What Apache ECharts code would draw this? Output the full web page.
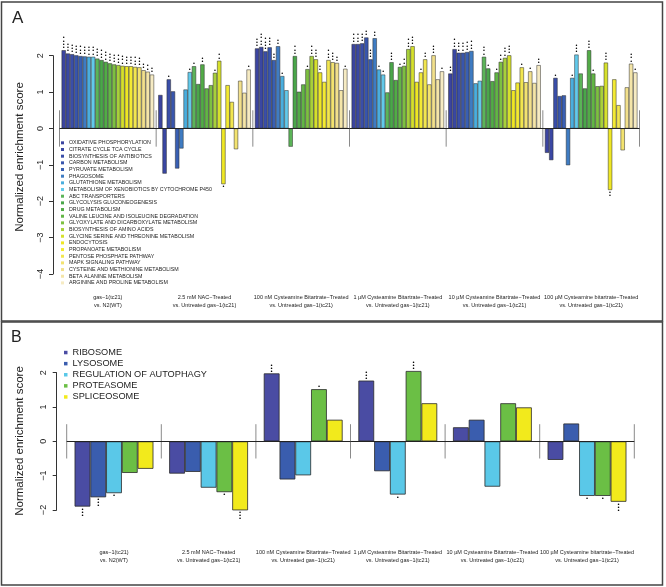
<!DOCTYPE html>
<html>
<head>
<meta charset="utf-8">
<script src="https://cdn.jsdelivr.net/npm/echarts@6/dist/echarts.min.js"></script>
<style>html,body{margin:0;padding:0;background:#fff}#c{width:666px;height:587px}</style>
</head>
<body>
<div id="c"></div>
<script>
// ---------- categories ----------
const groups = [
  'gas\u22121(tc21)\nvs. N2(WT)',
  '2.5 mM NAC\u2212Treated\nvs. Untreated gas\u22121(tc21)',
  '100 nM Cysteamine Bitartrate\u2212Treated\nvs. Untreated gas\u22121(tc21)',
  '1 \u00b5M Cysteamine Bitartrate\u2212Treated\nvs. Untreated gas\u22121(tc21)',
  '10 \u00b5M Cysteamine Bitartrate\u2212Treated\nvs. Untreated gas\u22121(tc21)',
  '100 \u00b5M Cysteamine bitartrate\u2212Treated\nvs. Untreated gas\u22121(tc21)'
];
const pathwaysA = [
  'OXIDATIVE PHOSPHORYLATION','CITRATE CYCLE TCA CYCLE','BIOSYNTHESIS OF ANTIBIOTICS','CARBON METABOLISM',
  'PYRUVATE METABOLISM','PHAGOSOME','GLUTATHIONE METABOLISM','METABOLISM OF XENOBIOTICS BY CYTOCHROME P450',
  'ABC TRANSPORTERS','GLYCOLYSIS GLUCONEOGENESIS','DRUG METABOLISM','VALINE LEUCINE AND ISOLEUCINE DEGRADATION',
  'GLYOXYLATE AND DICARBOXYLATE METABOLISM','BIOSYNTHESIS OF AMINO ACIDS','GLYCINE SERINE AND THREONINE METABOLISM',
  'ENDOCYTOSIS','PROPANOATE METABOLISM','PENTOSE PHOSPHATE PATHWAY','MAPK SIGNALING PATHWAY',
  'CYSTEINE AND METHIONINE METABOLISM','BETA ALANINE METABOLISM','ARGININE AND PROLINE METABOLISM'
];
const colorsA = ['#3b44a0','#3a47a3','#3a4ea9','#3855ad','#395fb3','#3f7cc3','#4aaede','#62c9ea',
  '#5bb458','#4aa64a','#52ab47','#62b645','#7dc041','#a8d03a','#d6e02c','#efe724','#f3ea33','#f2e64f',
  '#f3e370','#f2e08c','#f4e5a8','#f6ebc3'];

// ---------- panel A values (one array per comparison, in pathway order) ----------
const nesGas1   = [2.15,2.06,2.04,2.01,1.99,1.98,1.97,1.97,1.92,1.88,1.83,1.79,1.76,1.74,1.72,1.71,1.71,1.69,1.68,1.60,1.56,1.48];
const nesNAC    = [0.92,-1.24,1.35,1.02,-1.10,-0.55,1.07,1.55,1.71,1.22,1.76,1.10,1.19,1.53,1.86,-1.53,1.19,0.73,-0.57,1.31,0.98,1.62];
const nes100nM  = [2.20,2.24,2.12,2.23,1.88,2.26,1.44,1.05,-0.50,1.99,1.01,1.21,1.63,1.99,1.90,1.54,1.28,1.88,1.82,1.80,1.05,1.64];
const nes1uM    = [2.32,2.32,2.34,2.50,1.90,2.48,1.62,1.48,0.99,1.82,1.33,1.69,1.72,2.18,2.26,1.28,1.54,1.90,1.21,2.01,1.35,1.57];
const nes10uM   = [1.51,2.18,2.08,2.08,2.10,2.13,1.24,1.31,1.97,1.65,1.30,1.54,1.83,1.94,2.01,1.05,1.26,1.68,1.27,1.57,1.25,1.74];
const nes100uM  = [-0.67,-0.87,1.39,0.89,0.91,-1.01,1.39,2.03,1.51,1.10,2.15,1.51,1.16,1.17,1.81,-1.69,1.35,0.64,-0.60,1.13,1.78,1.54];
// significance stars (count)
const starsGas1  = [4,3,3,3,3,3,3,3,3,3,3,3,3,3,3,3,3,3,3,2,2,2];
const starsNAC   = [0,0,1,0,0,0,0,1,1,0,2,0,0,1,2,1,0,0,0,0,0,1];
const stars100nM = [3,4,4,3,2,2,1,0,0,3,0,0,1,3,3,2,0,3,3,2,0,1];
const stars1uM   = [3,3,3,2,3,2,1,1,0,3,0,1,2,3,3,0,1,2,0,3,0,1];
const stars10uM  = [2,3,3,3,3,3,0,0,3,1,0,1,2,3,3,0,0,1,0,1,0,2];
const stars100uM = [0,0,1,0,0,0,1,3,0,0,3,1,0,0,3,2,0,0,0,0,3,1];

// ---------- panel B ----------
const pathwaysB = ['RIBOSOME','LYSOSOME','REGULATION OF AUTOPHAGY','PROTEASOME','SPLICEOSOME'];
const colorsB = ['#4a4ca3','#3a5dae','#5ac8e8','#6bbf45','#f2ea1c'];
const nesB_gas1  = [-1.90,-1.63,-1.51,-0.92,-0.80];
const nesB_NAC   = [-0.94,-0.89,-1.35,-1.48,-2.01];
const nesB_100nM = [1.98,-1.11,-0.99,1.52,0.63];
const nesB_1uM   = [1.77,-0.87,-1.55,2.05,1.11];
const nesB_10uM  = [0.41,0.63,-1.32,1.11,0.99];
const nesB_100uM = [-0.54,0.52,-1.59,-1.59,-1.76];
const starsB_gas1  = [3,3,1,0,0];
const starsB_NAC   = [0,0,0,1,3];
const starsB_100nM = [3,0,0,1,0];
const starsB_1uM   = [3,0,1,3,0];
const starsB_10uM  = [0,0,0,0,0];
const starsB_100uM = [0,0,1,1,3];

const FONT = 'Liberation Sans, Arial, Helvetica, sans-serif';
const tableA = [nesGas1, nesNAC, nes100nM, nes1uM, nes10uM, nes100uM];
const starA  = [starsGas1, starsNAC, stars100nM, stars1uM, stars10uM, stars100uM];
const tableB = [nesB_gas1, nesB_NAC, nesB_100nM, nesB_1uM, nesB_10uM, nesB_100uM];
const starB  = [starsB_gas1, starsB_NAC, starsB_100nM, starsB_1uM, starsB_10uM, starsB_100uM];

function starItem(v, n, fs, lh) {
  const txt = n > 0 ? Array(n).fill('\u2022').join('\n') : '';
  return {
    value: v,
    label: {
      show: n > 0, formatter: txt, position: v < 0 ? 'bottom' : 'top',
      distance: 1, fontSize: fs, lineHeight: lh, color: '#000', fontFamily: FONT
    }
  };
}

const minus = v => (v < 0 ? '\u2212' + Math.abs(v) : String(v));

function sepSeries(xi) {
  return {
    type: 'custom', xAxisIndex: xi, yAxisIndex: xi, silent: true, z: 1,
    data: groups.map((g, i) => [i, 0]),
    renderItem: function (params, api) {
      const k = api.value(0);
      const c = api.coord([k, 0]);
      const bw = api.size([1, 0])[0];
      const top = api.coord([k, 0.5])[1];
      const bot = api.coord([k, -0.5])[1];
      const xs = [c[0] - bw / 2];
      if (k === groups.length - 1) xs.push(c[0] + bw / 2);
      return {
        type: 'group',
        children: xs.map(x => ({
          type: 'line', shape: { x1: x, y1: top, x2: x, y2: bot },
          style: { stroke: '#8a8a8a', lineWidth: 1 }
        }))
      };
    }
  };
}

const baseLine = {
  silent: true, symbol: 'none', label: { show: false },
  lineStyle: { color: '#222', width: 1, type: 'solid' },
  data: [{ yAxis: 0 }]
};

const seriesA = pathwaysA.map((p, j) => ({
  name: p, type: 'bar', xAxisIndex: 0, yAxisIndex: 0, clip: false,
  barGap: '0%', barCategoryGap: (100 / 23) + '%',
  itemStyle: { color: colorsA[j], borderColor: '#2a2a2a', borderWidth: 0.5 },
  data: tableA.map((arr, g) => starItem(arr[j], starA[g][j], 5.5, 3.3)),
  markLine: j === 0 ? baseLine : undefined
}));
const seriesB = pathwaysB.map((p, j) => ({
  name: p, type: 'bar', xAxisIndex: 1, yAxisIndex: 1, clip: false,
  barGap: '0%', barCategoryGap: (100 / 6) + '%',
  itemStyle: { color: colorsB[j], borderColor: '#2a2a2a', borderWidth: 0.8 },
  data: tableB.map((arr, g) => starItem(arr[j], starB[g][j], 6, 3)),
  markLine: j === 0 ? baseLine : undefined
}));

const xAxisCommon = {
  type: 'category', data: groups,
  axisLine: { show: false, onZero: false }, axisTick: { show: false },
  axisLabel: { interval: 0, fontSize: 5.5, lineHeight: 7.5, color: '#222', fontFamily: FONT }
};
const yAxisCommon = {
  type: 'value', interval: 1, splitLine: { show: false },
  axisLine: { show: true, lineStyle: { color: '#333', width: 1 } },
  axisTick: { show: true, length: 4, lineStyle: { color: '#333' } },
  axisLabel: { rotate: 90, fontSize: 9, color: '#222', fontFamily: FONT, formatter: minus }
};

const chart = echarts.init(document.getElementById('c'), null, { renderer: 'canvas' });
chart.setOption({
  animation: false,
  backgroundColor: '#fff',
  textStyle: { fontFamily: FONT },
  grid: [
    { left: 59.5, right: 26.5, top: 55.7, height: 218.3 },
    { left: 66.7, right: 31.7, top: 372.7, height: 137.3 }
  ],
  xAxis: [
    Object.assign({}, xAxisCommon, { gridIndex: 0, axisLabel: Object.assign({}, xAxisCommon.axisLabel, { margin: 20 }) }),
    Object.assign({}, xAxisCommon, { gridIndex: 1, axisLabel: Object.assign({}, xAxisCommon.axisLabel, { margin: 39 }) })
  ],
  yAxis: [
    Object.assign({}, yAxisCommon, { gridIndex: 0, min: -4, max: 2, offset: 6.5,
      axisLabel: Object.assign({}, yAxisCommon.axisLabel, { margin: 8 }) }),
    Object.assign({}, yAxisCommon, { gridIndex: 1, min: -2, max: 2, offset: 10,
      axisLabel: Object.assign({}, yAxisCommon.axisLabel, { margin: 9 }) })
  ],
  legend: [
    { data: pathwaysA, orient: 'vertical', left: 61, top: 139.5, padding: 0, itemGap: 0,
      itemWidth: 3, itemHeight: 3, icon: 'rect', selectedMode: false,
      itemStyle: { borderWidth: 0 },
      textStyle: { fontSize: 5.3, lineHeight: 6.67, color: '#222', fontFamily: FONT } },
    { data: pathwaysB, orient: 'vertical', left: 64, top: 347, padding: 0, itemGap: 0,
      itemWidth: 3.5, itemHeight: 3.5, icon: 'rect', selectedMode: false,
      itemStyle: { borderWidth: 0 },
      textStyle: { fontSize: 9.2, lineHeight: 11.1, color: '#222', fontFamily: FONT } }
  ],
  graphic: [
    { type: 'rect', shape: { x: 1.5, y: 2, width: 661, height: 319 }, style: { fill: 'none', stroke: '#444', lineWidth: 1.5 }, silent: true },
    { type: 'rect', shape: { x: 1.5, y: 322, width: 661, height: 263 }, style: { fill: 'none', stroke: '#444', lineWidth: 1.5 }, silent: true },
    { type: 'text', x: 12, y: 10, style: { text: 'A', fontSize: 17, fill: '#222', fontFamily: FONT } },
    { type: 'text', x: 11, y: 330, style: { text: 'B', fontSize: 16, fill: '#222', fontFamily: FONT } },
    { type: 'text', x: 20, y: 157, rotation: Math.PI / 2,
      style: { text: 'Normalized enrichment score', fontSize: 11.5, fill: '#222', fontFamily: FONT, align: 'center', verticalAlign: 'middle' } },
    { type: 'text', x: 20, y: 441, rotation: Math.PI / 2,
      style: { text: 'Normalized enrichment score', fontSize: 11.5, fill: '#222', fontFamily: FONT, align: 'center', verticalAlign: 'middle' } }
  ],
  series: [].concat(seriesA, seriesB, [sepSeries(0), sepSeries(1)])
});
</script>
</body>
</html>
